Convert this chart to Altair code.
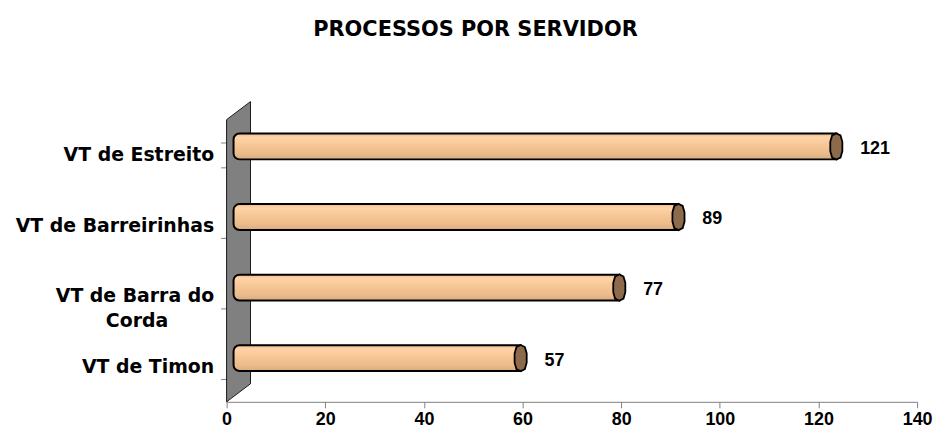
import altair as alt
import pandas as pd

# ---- data ----
categories = ["VT de Estreito", "VT de Barreirinhas", "VT de Barra do Corda", "VT de Timon"]
values = [121, 89, 77, 57]
x_ticks = [0, 20, 40, 60, 80, 100, 120, 140]
title_text = "PROCESSOS POR SERVIDOR"

# 3D back wall (decoration): depth in x units, lift as fraction of plot height
wall_x = [0, 4.85]
wall_bottom = [0, 0.064]
wall_top = [1, 1.064]

df = pd.DataFrame({"cat": categories, "val": values})
wall_df = pd.DataFrame({"x": wall_x, "y": wall_bottom, "y2": wall_top})

NBSP = "\u00a0"
ZWSP = "\u200b"
label_expr = (
    "datum.label == 'VT de Barra do Corda' ? ['VT de Barra do', 'Corda"
    + NBSP * 7
    + ZWSP
    + "'] : datum.label"
)

x_scale = alt.Scale(domain=[0, 140], nice=False, zero=True)
x_axis = alt.Axis(
    values=x_ticks,
    grid=False,
    title=None,
    labelFlush=False,
    domainColor="#808080",
    tickColor="#808080",
    tickSize=6,
    labelFont="Liberation Sans",
    labelFontWeight="bold",
    labelFontSize=18,
    labelColor="black",
    labelPadding=3,
)

y_scale = alt.Scale(domain=categories, paddingInner=0.634, paddingOuter=0.317)
y_axis = alt.Axis(
    orient="left",
    title=None,
    grid=False,
    tickBand="extent",
    domainColor="#808080",
    tickColor="#808080",
    tickSize=6,
    labelFont="DejaVu Sans",
    labelFontWeight="bold",
    labelFontSize=19,
    labelColor="black",
    labelPadding=7,
    labelLimit=300,
    labelLineHeight=25,
    labelExpr=label_expr,
)
y_enc = alt.Y("cat:N", scale=y_scale, axis=y_axis, sort=categories)

wall = (
    alt.Chart(wall_df)
    .mark_area(orient="vertical", fill="#808080", stroke="#1a1a1a", strokeWidth=1)
    .encode(
        x=alt.X("x:Q", scale=x_scale, axis=x_axis),
        y=alt.Y("y:Q", scale=alt.Scale(domain=[0, 1], nice=False, zero=False), axis=None),
        y2="y2:Q",
    )
)

bar_gradient = alt.Gradient(
    gradient="linear",
    x1=0, x2=0, y1=0, y2=1,
    stops=[
        alt.GradientStop(color="#F0BC8A", offset=0),
        alt.GradientStop(color="#FFD4A8", offset=0.15),
        alt.GradientStop(color="#F6C696", offset=0.45),
        alt.GradientStop(color="#EDBC8B", offset=0.75),
        alt.GradientStop(color="#D8AC80", offset=1),
    ],
)

bars = (
    alt.Chart(df)
    .mark_bar(
        color=bar_gradient,
        stroke="black",
        strokeWidth=2,
        cornerRadiusTopLeft=6,
        cornerRadiusBottomLeft=6,
        xOffset=13,
        x2Offset=7,
        yOffset=-8.5,
        y2Offset=-8.5,
    )
    .encode(
        x=alt.X("val:Q", scale=x_scale, axis=x_axis),
        x2=alt.datum(0),
        y=y_enc,
    )
)

cap_path = (
    "M0,-1 L0.32,-0.84 L0.46,-0.35 L0.46,0.35 L0.32,0.84 "
    "L0,1 L-0.32,0.84 L-0.46,0.35 L-0.46,-0.35 L-0.32,-0.84 Z"
)
caps = (
    alt.Chart(df)
    .mark_point(
        shape=cap_path,
        filled=True,
        fill="#8C6A4B",
        stroke="black",
        strokeWidth=1.8,
        opacity=1,
        size=700,
        xOffset=13,
        yOffset=-8.5,
    )
    .encode(
        x=alt.X("val:Q", scale=x_scale, axis=x_axis),
        y=y_enc,
    )
)

labels = (
    alt.Chart(df)
    .mark_text(
        align="left",
        baseline="middle",
        dx=37,
        dy=-6,
        font="Liberation Sans",
        fontWeight="bold",
        fontSize=18,
        color="black",
    )
    .encode(
        x=alt.X("val:Q", scale=x_scale, axis=x_axis),
        y=y_enc,
        text="val:Q",
    )
)

chart = (
    alt.layer(wall, alt.layer(bars, caps, labels))
    .resolve_scale(y="independent")
    .properties(
        width=695,
        height=284,
        background="white",
        autosize=alt.AutoSizeParams(type="none"),
        padding={"left": 220, "top": 111, "right": 18, "bottom": 27},
        title=alt.TitleParams(
            text=title_text,
            anchor="middle",
            frame="group",
            dx=-97,
            offset=43,
            font="DejaVu Sans",
            fontWeight="bold",
            fontSize=21,
            color="black",
            baseline="alphabetic",
        ),
    )
    .configure_view(stroke=None, strokeWidth=0)
)

chart.save("out.html", embed_options={"renderer": "svg", "actions": False})
